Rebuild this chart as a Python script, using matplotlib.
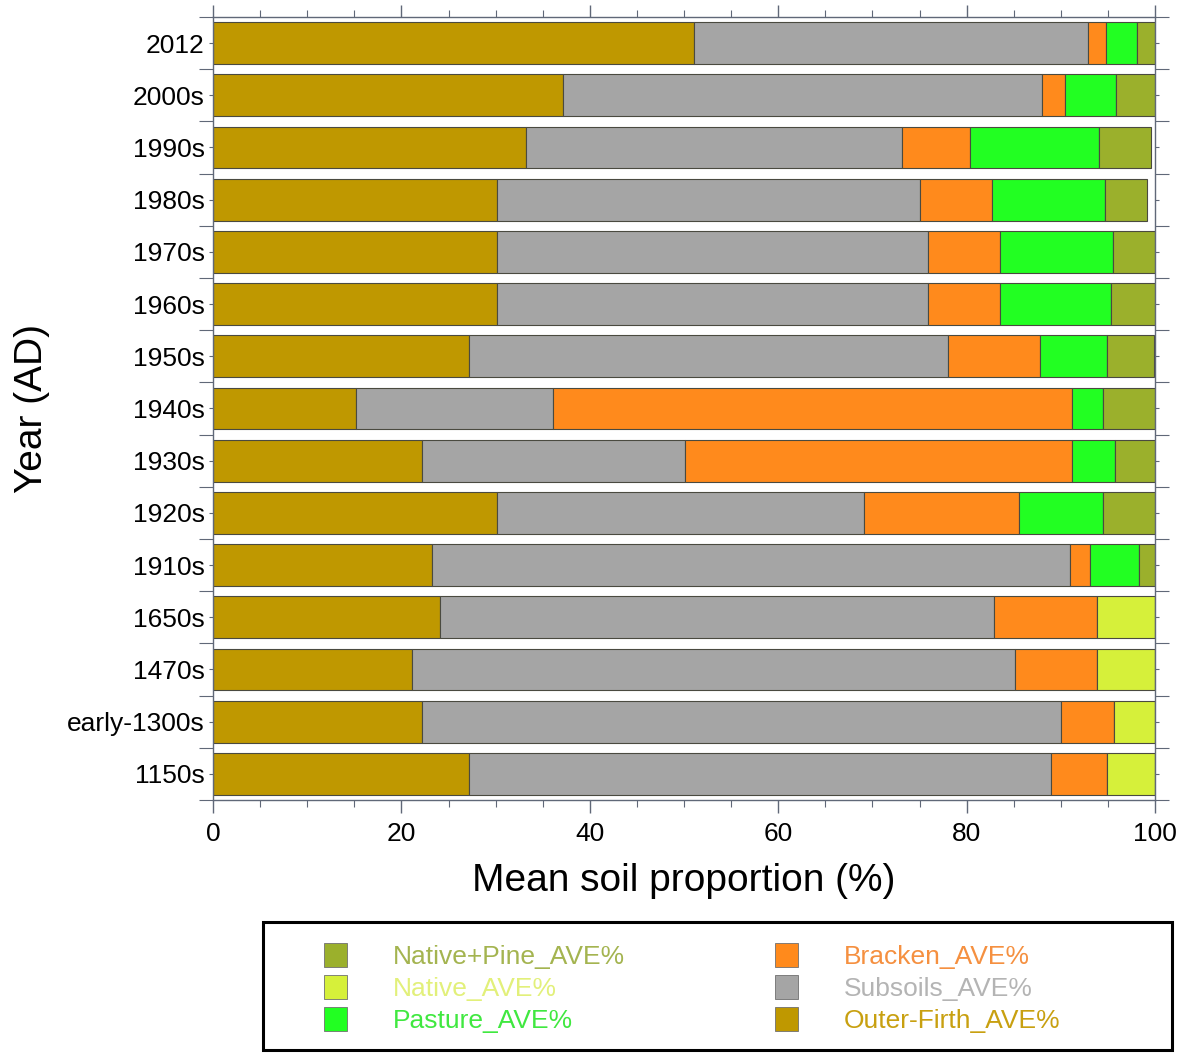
import numpy as np
import matplotlib.pyplot as plt
from matplotlib.patches import Rectangle, Patch
from matplotlib.ticker import MultipleLocator, FixedLocator

plt.rcParams['font.family'] = ['Liberation Sans', 'DejaVu Sans']

# rows, top to bottom
years = ['2012', '2000s', '1990s', '1980s', '1970s', '1960s', '1950s', '1940s',
         '1930s', '1920s', '1910s', '1650s', '1470s', 'early-1300s', '1150s']

# mean soil proportions (%) per source, stacked left to right
outer_firth = [51.1, 37.2, 33.2, 30.1, 30.1, 30.1, 27.2, 15.2, 22.2, 30.1, 23.2, 24.1, 21.1, 22.2, 27.2]
subsoils = [41.8, 50.8, 39.9, 45.0, 45.8, 45.8, 50.8, 20.9, 27.9, 39.0, 67.8, 58.8, 64.0, 67.8, 61.8]
bracken = [1.9, 2.4, 7.3, 7.6, 7.6, 7.6, 9.8, 55.1, 41.1, 16.5, 2.1, 10.9, 8.7, 5.6, 5.9]
pasture = [3.3, 5.5, 13.7, 12.0, 12.0, 11.8, 7.1, 3.3, 4.6, 8.9, 5.2, 0, 0, 0, 0]
native = [0, 0, 0, 0, 0, 0, 0, 0, 0, 0, 0, 6.2, 6.2, 4.4, 5.1]
native_pine = [1.9, 4.1, 5.5, 4.5, 4.5, 4.7, 5.0, 5.5, 4.2, 5.5, 1.7, 0, 0, 0, 0]

series = [
    ('Outer-Firth_AVE%', outer_firth, '#BF9800', '#C8A010'),
    ('Subsoils_AVE%', subsoils, '#A5A5A5', '#B4B4B4'),
    ('Bracken_AVE%', bracken, '#FF8A1C', '#F59040'),
    ('Pasture_AVE%', pasture, '#22FF22', '#40E840'),
    ('Native_AVE%', native, '#D6F03A', '#E2F07A'),
    ('Native+Pine_AVE%', native_pine, '#9BB02C', '#A4B450'),
]

fig = plt.figure(figsize=(11.77, 10.53), dpi=100)
ax = fig.add_axes([0.181, 0.2403, 0.8003, 0.7436])

y = np.arange(len(years))
left = np.zeros(len(years))
handles = {}
for name, vals, col, tcol in series:
    vals = np.array(vals)
    ax.barh(y, vals, left=left, height=0.8, color=col,
            edgecolor='#4a4a40', linewidth=0.8)
    left += vals
    handles[name] = Patch(facecolor=col, edgecolor='#707070', linewidth=0.6)

ax.set_xlim(0, 100)
ax.set_ylim(len(years) - 0.5, -0.5)

ax.xaxis.set_major_locator(MultipleLocator(20))
ax.xaxis.set_minor_locator(MultipleLocator(5))
ax.yaxis.set_major_locator(FixedLocator(np.arange(-0.5, len(years), 1)))
ax.yaxis.set_minor_locator(FixedLocator(y))
ax.yaxis.set_major_formatter(plt.NullFormatter())
ax.yaxis.set_minor_formatter(plt.FixedFormatter(years))

ax.tick_params(axis='x', which='major', direction='out', length=9, width=1,
               color='#606878', labelsize=19, pad=7, top=True)
ax.tick_params(axis='x', which='minor', direction='out', length=5, width=0.8,
               color='#606878', top=True)
ax.tick_params(axis='y', which='major', direction='out', length=10, width=0.8,
               color='#606878', right=True)
ax.tick_params(axis='y', which='minor', direction='out', length=3, width=0.8,
               color='#606878', labelsize=19, pad=3, right=True)
for s in ax.spines.values():
    s.set_color('#606878')
    s.set_linewidth(1)

ax.set_xlabel('Mean soil proportion (%)', fontsize=28, labelpad=12)
ax.set_ylabel('Year (AD)', fontsize=28, labelpad=12)

# legend frame
fig.patches.append(Rectangle((263 / 1177, 1 - 1050 / 1053), 909 / 1177, 128 / 1053,
                             transform=fig.transFigure, fill=False,
                             edgecolor='black', linewidth=2.2))

order = ['Native+Pine_AVE%', 'Native_AVE%', 'Pasture_AVE%',
         'Bracken_AVE%', 'Subsoils_AVE%', 'Outer-Firth_AVE%']
tcols = {name: tcol for name, _, _, tcol in series}
leg = fig.legend([handles[n] for n in order], order, ncol=2, frameon=False,
                 loc='center left', bbox_to_anchor=(311 / 1177, 1 - 988 / 1053),
                 fontsize=19, handlelength=0.85, handleheight=1.0,
                 handletextpad=1.75, columnspacing=5.7, labelspacing=0.24,
                 borderpad=0)
for t, n in zip(leg.get_texts(), order):
    t.set_color(tcols[n])

fig.savefig('out.png', dpi=100)
